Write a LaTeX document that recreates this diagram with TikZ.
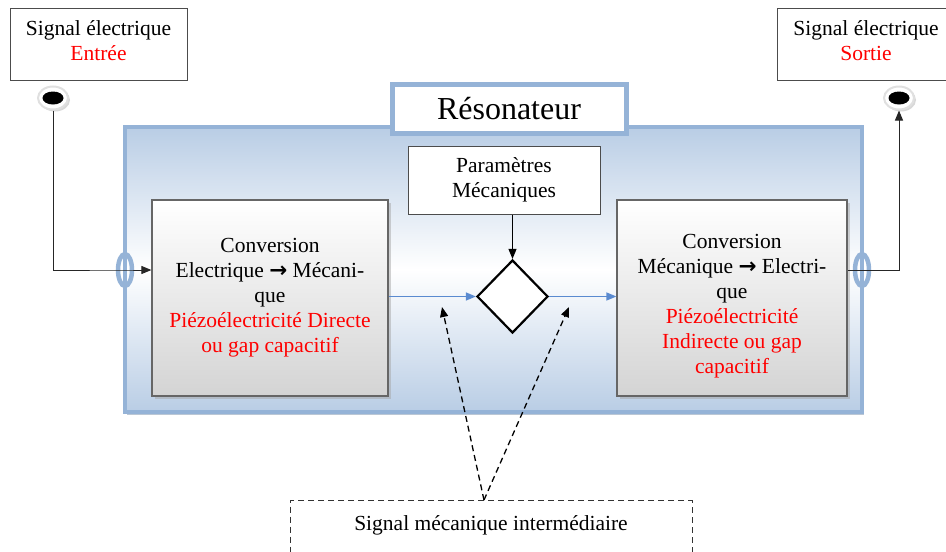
\documentclass[tikz,border=0pt]{standalone}
\usepackage{fontspec}
\setmainfont{Liberation Serif}
\newfontfamily\arrowfont{DejaVu Sans}
\usetikzlibrary{shapes.geometric,arrows.meta,shadows}
\definecolor{resblue}{HTML}{B9CDE5}
\definecolor{resedge}{HTML}{95B3D7}
\definecolor{flowblue}{HTML}{5A8AD0}
\newcommand{\convarrow}{{\arrowfont\bfseries →}}
\begin{document}
\begin{tikzpicture}[x=1pt,y=-1pt,font=\fontsize{21.5}{25}\selectfont]
\tikzstyle{sigbox} = [draw=black!70, fill=white, line width=1pt, align=center, inner sep=0pt]
\tikzstyle{convbox} = [draw=black!60, line width=1.2pt, top color=white, bottom color=black!17, align=center, inner sep=0pt, drop shadow={shadow xshift=3pt,shadow yshift=-3pt,fill=black!35}]
\tikzstyle{ring} = [shape=ellipse, draw=resedge, line width=4.5pt, minimum width=14pt, minimum height=32pt, inner sep=0pt]
\tikzstyle{terminal} = [shape=ellipse, fill=black, minimum width=21pt, minimum height=13pt, inner sep=0pt]
\tikzstyle{halo} = [shape=ellipse, fill=white, draw=black!12, line width=2pt, minimum width=30pt, minimum height=23pt, inner sep=0pt, drop shadow={shadow xshift=2pt,shadow yshift=-2pt,fill=black!30}]
\tikzstyle{tip} = [-{Triangle[length=10pt,width=8pt]}]
\tikzstyle{dashline} = [dash pattern=on 6pt off 4pt]

\useasboundingbox (0,0) rectangle (946,552);

% resonateur
\node[draw=resedge, line width=4pt, top color=resblue, bottom color=resblue, middle color=white, minimum width=737pt, minimum height=285pt, inner sep=0pt, drop shadow={shadow xshift=2pt,shadow yshift=-3pt,fill=resedge!80!black}] (res) at (493.5,269.5) {};
\node[draw=resedge, line width=5pt, fill=white, minimum width=234pt, minimum height=49pt, font=\fontsize{32}{36}\selectfont] (title) at (509,108.5) {Résonateur};

\node[sigbox, minimum width=177pt, minimum height=72pt] (in) at (98.5,44) {Signal électrique\\ \textcolor{red}{Entrée}\\[-18pt]};
\node[sigbox, minimum width=178pt, minimum height=72pt] (out) at (866,44) {Signal électrique\\ \textcolor{red}{Sortie}\\[-18pt]};

\node[halo] (inH) at (53,98) {};
\node[terminal] (inT) at (inH) {};
\node[halo] (outH) at (899,98) {};
\node[terminal] (outT) at (outH) {};

\node[convbox, minimum width=236pt, minimum height=196pt] (conv1) at (270,298) {Conversion\\ Electrique \convarrow{} Mécani-\\ que\\ \textcolor{red}{Piézoélectricité Directe}\\ \textcolor{red}{ou gap capacitif}};
\node[convbox, minimum width=230pt, minimum height=196pt] (conv2) at (732,298) {\mbox{}\\[5pt] Conversion\\ Mécanique \convarrow{} Electri-\\ que\\ \textcolor{red}{Piézoélectricité}\\ \textcolor{red}{Indirecte ou gap}\\ \textcolor{red}{capacitif}};

\node[sigbox, minimum width=192pt, minimum height=68pt] (par) at (504,180) {Paramètres\\ Mécaniques};
\node[shape=diamond, draw=black, line width=2.2pt, fill=white, minimum width=71pt, minimum height=73pt, inner sep=0pt] (dia) at (512.5,296.5) {};

\node[ring] (ringL) at (125,270) {};
\node[ring] (ringR) at (862,270) {};

\draw[black!85, line width=1pt, tip] (inH.south) |- (ringL.center) -- (ringL -| conv1.west);
\draw[black!85, line width=1pt, tip] (conv2.east |- ringR) -| (outH.south);
\draw[black, line width=1pt, tip] (dia |- par.south) -- (dia.north);
\draw[flowblue, line width=1.3pt, tip] (conv1.east |- dia) -- (dia.west);
\draw[flowblue, line width=1.3pt, tip] (dia.east) -- (dia -| conv2.west);

\node[draw=black!80, dashline, line width=1pt, minimum width=402pt, inner sep=0pt, anchor=north, text height=30pt, text depth=30pt] (mid) at (491,500) {Signal mécanique intermédiaire};
\coordinate (join) at (484,500);
\coordinate (pL) at (442,307);
\coordinate (pR) at (569,307);
\draw[dashline, line width=1.3pt, tip] (join) -- (pL);
\draw[dashline, line width=1.3pt, tip] (join) -- (pR);
\end{tikzpicture}
\end{document}
